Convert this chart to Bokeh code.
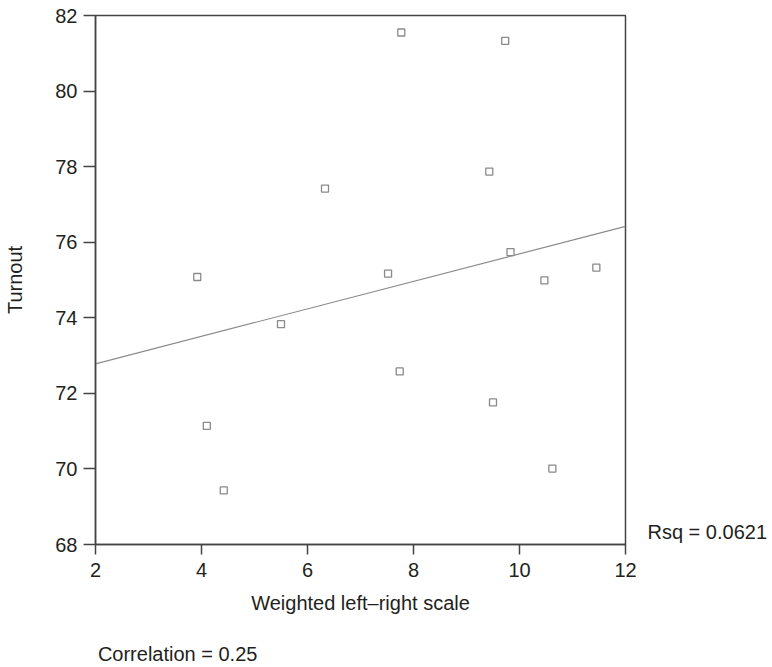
from bokeh.plotting import figure
from bokeh.models import Range1d, FixedTicker, LinearAxis
from bokeh.embed import file_html
from bokeh.resources import INLINE

# Data
lr_scale = [3.92, 4.10, 4.42, 5.50, 6.33, 7.52, 7.74, 7.77, 9.43, 9.50, 9.73, 9.83, 10.47, 10.62, 11.45]
turnout = [75.08, 71.14, 69.43, 73.83, 77.42, 75.17, 72.58, 81.55, 77.87, 71.76, 81.33, 75.74, 74.99, 70.01, 75.33]
fit_x = [2, 12]
fit_y = [72.78, 76.42]
x_ticks = [2, 4, 6, 8, 10, 12]
y_ticks = [68, 70, 72, 74, 76, 78, 80, 82]
rsq_text = "Rsq = 0.0621"
rsq_y = 68.33
corr_text = "Correlation = 0.25"
corr_x = 3.55

FONT = "Liberation Sans"
FS = "20px"
AXC = "#444444"
TXT = "#231f20"

p = figure(width=772, height=667, output_backend="svg", toolbar_location=None,
           x_range=Range1d(2, 12), y_range=Range1d(68, 82),
           min_border_left=95, min_border_right=147, min_border_top=15, min_border_bottom=122)

p.xgrid.visible = False
p.ygrid.visible = False
p.outline_line_color = AXC
p.outline_line_width = 1.5
p.background_fill_color = "white"
p.border_fill_color = "white"

p.xaxis.ticker = FixedTicker(ticks=x_ticks)
p.yaxis.ticker = FixedTicker(ticks=y_ticks)
p.xaxis.axis_label = "Weighted left\u2013right scale"
p.yaxis.axis_label = "Turnout"

for ax in (p.xaxis[0], p.yaxis[0]):
    ax.axis_line_color = AXC
    ax.axis_line_width = 1.5
    ax.major_tick_line_color = AXC
    ax.major_tick_line_width = 1.5
    ax.major_tick_in = 0
    ax.minor_tick_line_color = None
    ax.major_label_text_font = FONT
    ax.major_label_text_font_size = FS
    ax.major_label_text_color = TXT
    ax.axis_label_text_font = FONT
    ax.axis_label_text_font_size = FS
    ax.axis_label_text_font_style = "normal"
    ax.axis_label_text_color = TXT

p.yaxis.major_tick_out = 12
p.yaxis.major_label_standoff = 6
p.yaxis.axis_label_standoff = 26
p.xaxis.major_tick_out = 10
p.xaxis.major_label_standoff = 8
p.xaxis.axis_label_standoff = 12

# Rsq annotation: a tick-label-only axis on the right
rsq_axis = LinearAxis(ticker=FixedTicker(ticks=[rsq_y]),
                      major_label_overrides={rsq_y: rsq_text},
                      axis_line_color=None, major_tick_line_color=None,
                      minor_tick_line_color=None, major_tick_out=0, major_tick_in=0,
                      major_label_standoff=22,
                      major_label_text_font=FONT, major_label_text_font_size=FS,
                      major_label_text_color=TXT)
p.add_layout(rsq_axis, "right")

# Correlation note: a tick-label-only axis below the x axis
corr_axis = LinearAxis(ticker=FixedTicker(ticks=[corr_x]),
                       major_label_overrides={corr_x: corr_text},
                       axis_line_color=None, major_tick_line_color=None,
                       minor_tick_line_color=None, major_tick_out=0, major_tick_in=0,
                       major_label_standoff=26,
                       major_label_text_font=FONT, major_label_text_font_size=FS,
                       major_label_text_color=TXT)
p.add_layout(corr_axis, "below")

p.line(fit_x, fit_y, line_color="#8c8c8c", line_width=1.2)
p.scatter(lr_scale, turnout, marker="square", size=7, fill_color="white",
          line_color="#8a8a8a", line_width=1.3)

open("out.html", "w").write(file_html(p, INLINE))
